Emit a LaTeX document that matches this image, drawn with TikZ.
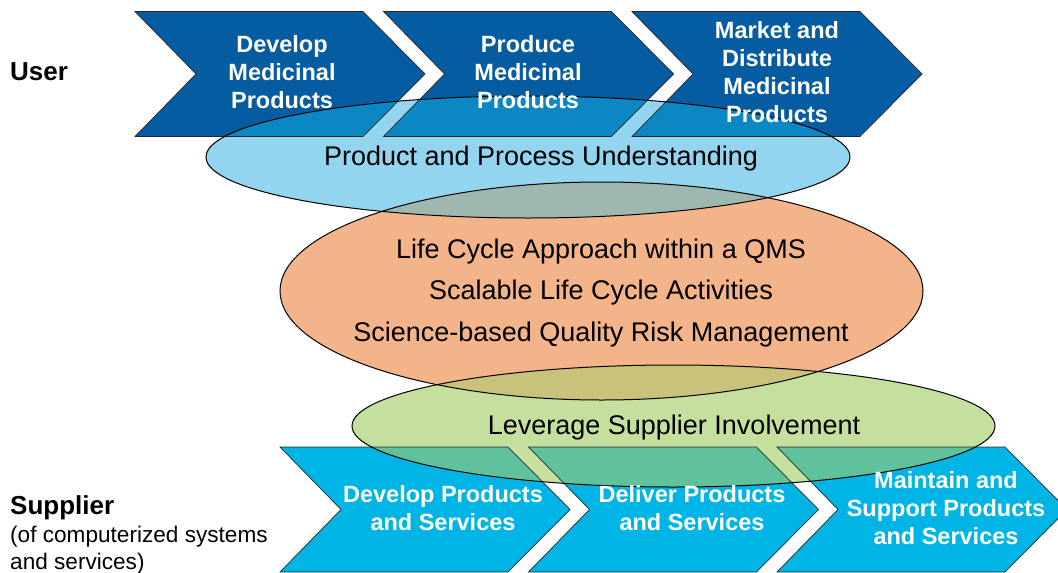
\documentclass[tikz,border=0pt]{standalone}
\usepackage{fontspec}
\setmainfont{Liberation Sans}
\definecolor{chevdark}{RGB}{6,92,160}
\definecolor{chevcyan}{RGB}{0,181,229}
\definecolor{ellblue}{RGB}{147,212,239}
\definecolor{ovblue}{RGB}{11,136,195}
\definecolor{ellorange}{RGB}{244,180,138}
\definecolor{ovgrey}{RGB}{158,183,175}
\definecolor{ellgreen}{RGB}{197,223,158}
\definecolor{ovolive}{RGB}{200,194,122}
\definecolor{ovteal}{RGB}{95,194,157}
\newcommand\chevpath[2]{(#1,#2) -- ++(228,0) -- ++(62,62.5) -- ++(-62,62.5) -- ++(-228,0) -- ++(61,-62.5) -- cycle}
\newcommand\topchevs{\chevpath{135}{11.5} \chevpath{383.5}{11.5} \chevpath{632}{11.5}}
\newcommand\botchevs{\chevpath{280}{447} \chevpath{528.5}{447} \chevpath{777}{447}}
\newcommand\ellB{(528,157) ellipse [x radius=322, y radius=61]}
\newcommand\ellO{(601.5,291) ellipse [x radius=321.5, y radius=109]}
\newcommand\ellG{(673.5,426) ellipse [x radius=321.5, y radius=61]}
\begin{document}
\begin{tikzpicture}[x=1pt,y=-1pt,
  chevtext/.style={text=white, align=center, inner sep=0pt,
    font=\fontsize{23.5}{28}\selectfont\bfseries},
  elltext/.style={text=black, align=center, inner sep=0pt,
    font=\fontsize{27}{41.5}\selectfont},
  chevline/.style={draw=black!85, line width=0.7pt, line join=miter},
  ellline/.style={draw=black, line width=1pt}]
\useasboundingbox (0,0) rectangle (1058,573);
% chevrons
\fill[chevdark] \topchevs;
\fill[chevcyan] \botchevs;
% blue ellipse and overlap
\fill[ellblue] \ellB;
\begin{scope}
  \clip \ellB;
  \fill[ovblue] \topchevs;
\end{scope}
% orange ellipse and overlap
\fill[ellorange] \ellO;
\begin{scope}
  \clip \ellB;
  \fill[ovgrey] \ellO;
\end{scope}
% green ellipse and overlaps
\fill[ellgreen] \ellG;
\begin{scope}
  \clip \ellG;
  \fill[ovolive] \ellO;
  \fill[ovteal] \botchevs;
\end{scope}
% outlines
\draw[chevline] \topchevs;
\draw[chevline] \botchevs;
\draw[ellline] \ellB;
\draw[ellline] \ellO;
\draw[ellline] \ellG;
% chevron texts
\node[chevtext] (u1) at (282,72) {Develop\\Medicinal\\Products};
\node[chevtext] (u2) at (528,72) {Produce\\Medicinal\\Products};
\node[chevtext] (u3) at (777,72) {Market and\\Distribute\\Medicinal\\Products};
\node[chevtext] (s1) at (443,508) {Develop Products\\and Services};
\node[chevtext] (s2) at (692,508) {Deliver Products\\and Services};
\node[chevtext] (s3) at (946,508) {Maintain and\\Support Products\\and Services};
% ellipse texts
\node[elltext] (ppu) at (541,159) {Product and Process Understanding};
\node[elltext] (lca) at (601,293) {Life Cycle Approach within a QMS\\Scalable Life Cycle Activities\\Science-based Quality Risk Management};
\node[elltext] (lsi) at (674,428) {Leverage Supplier Involvement};
% side labels
\node[anchor=west, inner sep=0pt, font=\fontsize{26}{30}\selectfont\bfseries] (user) at (10,72) {User};
\node[anchor=west, inner sep=0pt, font=\fontsize{26}{30}\selectfont\bfseries] (supplier) at (10,508) {Supplier};
\node[anchor=west, inner sep=0pt, align=left, font=\fontsize{22.6}{27}\selectfont] (supnote) at (10,550) {(of computerized systems\\and services)};
\end{tikzpicture}
\end{document}
